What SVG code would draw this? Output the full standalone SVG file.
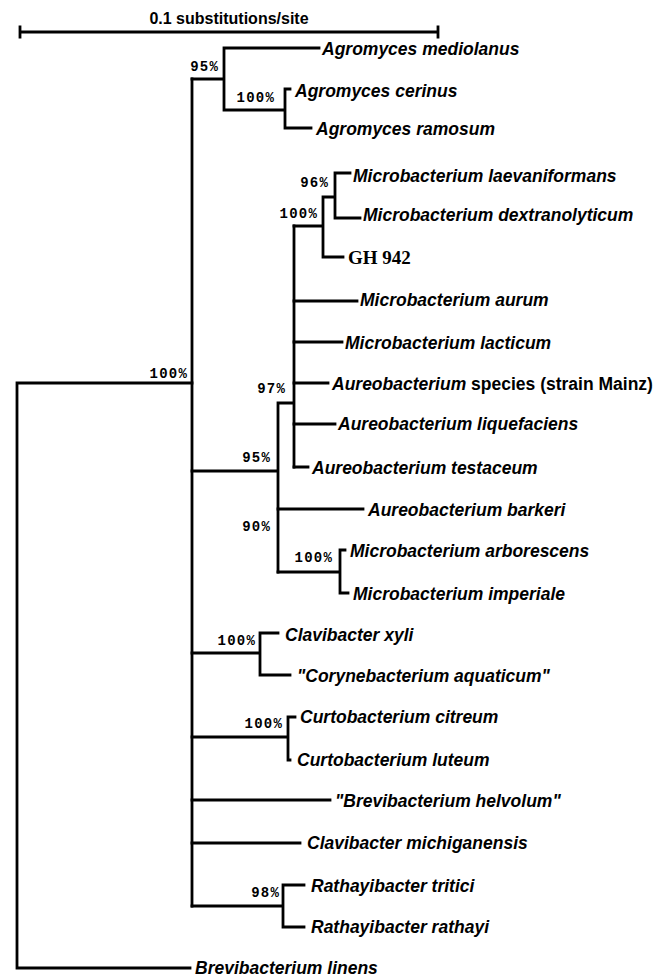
<svg xmlns="http://www.w3.org/2000/svg" width="670" height="977" viewBox="0 0 670 977">
<style>
.ln{stroke:#000;stroke-width:2.8;fill:none;stroke-linecap:square}
.sp{font-family:"Liberation Sans",Arial,sans-serif;font-weight:bold;font-style:italic;font-size:17.5px;fill:#000}
.rm{font-style:normal}
.pc{font-family:"Liberation Mono","Courier New",monospace;font-weight:bold;font-size:14px;letter-spacing:1.2px;fill:#000;text-anchor:end}
.sc{font-family:"Liberation Sans",Arial,sans-serif;font-weight:bold;font-size:16px;fill:#000;text-anchor:middle}
.gh{font-family:"Liberation Serif","Times New Roman",serif;font-weight:bold;font-size:19px;fill:#000}
</style>
<rect width="670" height="977" fill="#fff"/>
<g id="scale">
<text class="sc" x="229" y="24">0.1 substitutions/site</text>
<path class="ln" d="M20,32H438M20,27V37M438,27V37"/>
</g>
<g id="connectors">
<path class="ln" d="M17,383V968M17,383H192M17,968H190"/>
<path class="ln" d="M192,79V906"/>
<path class="ln" d="M192,79H224M224,48V110M224,48H319M224,110H285M285,89V128M285,89H290M285,128H311"/>
<path class="ln" d="M192,471H278M278,403V572M278,403H294M294,226V467"/>
<path class="ln" d="M294,226H323M323,197V257M323,197H335M335,173V218M335,173H350M335,218H360M323,257H343"/>
<path class="ln" d="M294,301H357M294,342H342M294,383H328M294,424H335M294,467H308"/>
<path class="ln" d="M278,509H363M278,572H340M340,550V593M340,550H345M340,593H348"/>
<path class="ln" d="M192,653H260M260,633V675M260,633H278M260,675H290"/>
<path class="ln" d="M192,737H288M288,717V760M288,717H295M288,760H290"/>
<path class="ln" d="M192,800H330M192,843H300"/>
<path class="ln" d="M192,906H283M283,885V927M283,885H304M283,927H304"/>
</g>
<g id="support">
<text class="pc" x="219" y="71">95%</text>
<text class="pc" x="275" y="102">100%</text>
<text class="pc" x="188" y="378">100%</text>
<text class="pc" x="329" y="187">96%</text>
<text class="pc" x="318" y="218">100%</text>
<text class="pc" x="286" y="393">97%</text>
<text class="pc" x="271" y="462">95%</text>
<text class="pc" x="271" y="531">90%</text>
<text class="pc" x="333" y="562">100%</text>
<text class="pc" x="256" y="645">100%</text>
<text class="pc" x="283" y="728">100%</text>
<text class="pc" x="280" y="897">98%</text>
</g>
<g id="n1"><text class="sp" x="322" y="55">Agromyces mediolanus</text></g>
<g id="n2"><text class="sp" x="295" y="97">Agromyces cerinus</text></g>
<g id="n3"><text class="sp" x="316" y="135">Agromyces ramosum</text></g>
<g id="n4"><text class="sp" x="353" y="182">Microbacterium laevaniformans</text></g>
<g id="n5"><text class="sp" x="363" y="221">Microbacterium dextranolyticum</text></g>
<g id="n6"><text class="gh" x="348" y="264">GH 942</text></g>
<g id="n7"><text class="sp" x="360" y="306">Microbacterium aurum</text></g>
<g id="n8"><text class="sp" x="345" y="349">Microbacterium lacticum</text></g>
<g id="n9"><text class="sp" x="332" y="390">Aureobacterium<tspan class="rm"> species (strain Mainz)</tspan></text></g>
<g id="n10"><text class="sp" x="338" y="430">Aureobacterium liquefaciens</text></g>
<g id="n11"><text class="sp" x="312" y="474">Aureobacterium testaceum</text></g>
<g id="n12"><text class="sp" x="368" y="516">Aureobacterium barkeri</text></g>
<g id="n13"><text class="sp" x="350" y="557">Microbacterium arborescens</text></g>
<g id="n14"><text class="sp" x="353" y="600">Microbacterium imperiale</text></g>
<g id="n15"><text class="sp" x="285" y="641">Clavibacter xyli</text></g>
<g id="n16"><text class="sp" x="297" y="682">"Corynebacterium aquaticum"</text></g>
<g id="n17"><text class="sp" x="300" y="723">Curtobacterium citreum</text></g>
<g id="n18"><text class="sp" x="297" y="766">Curtobacterium luteum</text></g>
<g id="n19"><text class="sp" x="335" y="807">"Brevibacterium helvolum"</text></g>
<g id="n20"><text class="sp" x="307" y="849">Clavibacter michiganensis</text></g>
<g id="n21"><text class="sp" x="311" y="892">Rathayibacter tritici</text></g>
<g id="n22"><text class="sp" x="311" y="933">Rathayibacter rathayi</text></g>
<g id="n23"><text class="sp" x="195" y="974">Brevibacterium linens</text></g>
</svg>
